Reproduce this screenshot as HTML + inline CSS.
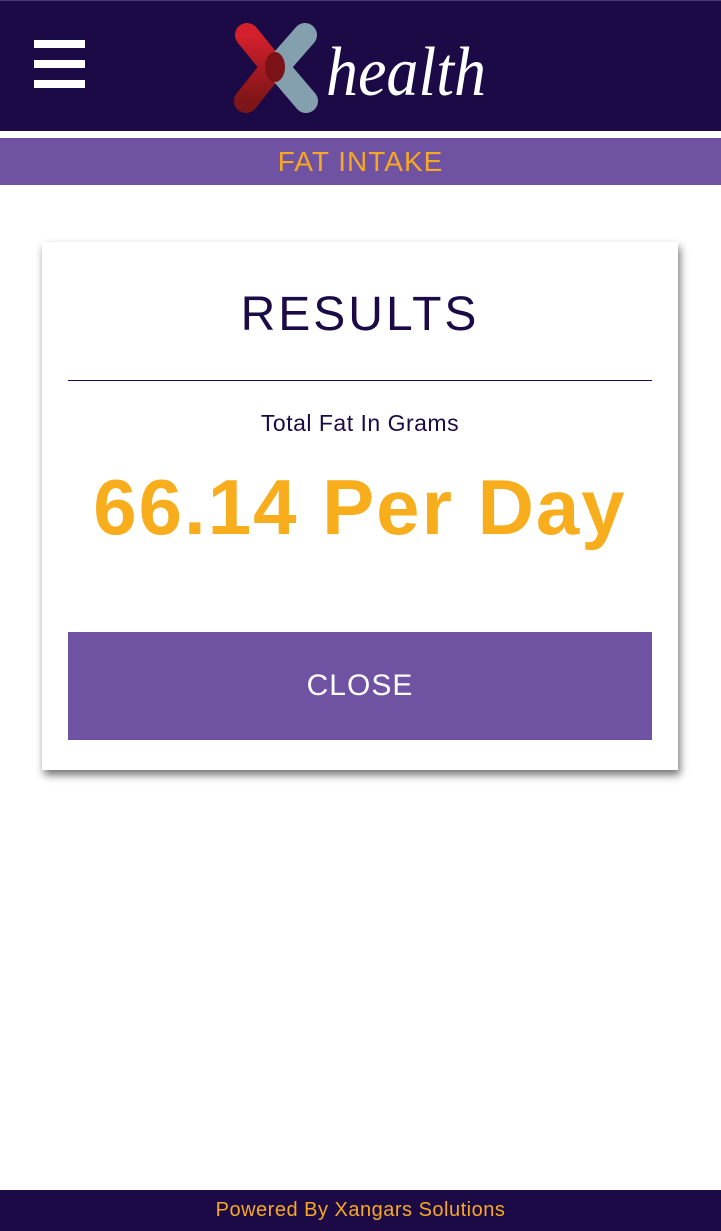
<!DOCTYPE html>
<html><head><meta charset="utf-8"><style>
*{margin:0;padding:0;box-sizing:border-box}
body{width:721px;height:1231px;background:#fff;position:relative;overflow:hidden;font-family:"Liberation Sans",sans-serif}
.abs{position:absolute}
</style></head><body>
<div class="abs" style="left:0;top:0;width:721px;height:131px;background:#1b0a45;border-top:1px solid #4a3a70"></div>
<div class="abs" style="left:34px;top:40px;width:51px;height:50px">
 <div style="position:absolute;left:0;top:0;width:51px;height:8px;background:#fff"></div>
 <div style="position:absolute;left:0;top:20px;width:51px;height:8px;background:#fff"></div>
 <div style="position:absolute;left:0;top:40px;width:51px;height:8px;background:#fff"></div>
</div>
<svg class="abs" style="left:225px;top:15px" width="280" height="100">
 <defs><linearGradient id="r" x1="0" y1="0" x2="0" y2="1"><stop offset="0" stop-color="#d4202c"/><stop offset="1" stop-color="#7e1518"/></linearGradient></defs>
 <polyline points="22,20 48,52 21,86" fill="none" stroke="url(#r)" stroke-width="24" stroke-linecap="round" stroke-linejoin="round"/>
 <polyline points="80,20 52,52 81,86" fill="none" stroke="#849fad" stroke-width="24" stroke-linecap="round" stroke-linejoin="round"/>
 <ellipse cx="50" cy="52" rx="10" ry="15" fill="#7a1216"/>
 <text x="101" y="80" font-family="Liberation Serif,serif" font-style="italic" font-size="70" fill="#fff" textLength="160" lengthAdjust="spacingAndGlyphs">health</text>
</svg>
<div class="abs" style="left:0;top:138px;width:721px;height:47px;background:#7052a2;color:#f7a823;font-size:28px;text-align:center;line-height:47px;letter-spacing:1px">FAT INTAKE</div>
<div class="abs" style="left:42px;top:242px;width:636px;height:528px;background:#fff;box-shadow:2px 5px 8px rgba(0,0,0,0.55)">
 <div style="position:absolute;left:0;top:45px;width:100%;text-align:center;font-size:48px;color:#1b0a45;letter-spacing:3px">RESULTS</div>
 <div style="position:absolute;left:26px;top:138px;width:584px;height:1px;background:#1b0a45"></div>
 <div style="position:absolute;left:0;top:168px;width:100%;text-align:center;font-size:23px;color:#1b0a45;letter-spacing:0.5px">Total Fat In Grams</div>
 <div style="position:absolute;left:0;top:220px;width:100%;text-align:center;font-size:78px;font-weight:bold;color:#f7ad1c;letter-spacing:2px">66.14 Per Day</div>
 <div style="position:absolute;left:26px;top:390px;width:584px;height:108px;background:#7052a2;color:#fff;font-size:30px;text-align:center;line-height:108px;letter-spacing:1px">CLOSE</div>
</div>
<div class="abs" style="left:0;top:1190px;width:721px;height:41px;background:#1b0a45;color:#f7a823;font-size:20px;text-align:center;line-height:41px;letter-spacing:0.5px">Powered By Xangars Solutions</div>
</body></html>
